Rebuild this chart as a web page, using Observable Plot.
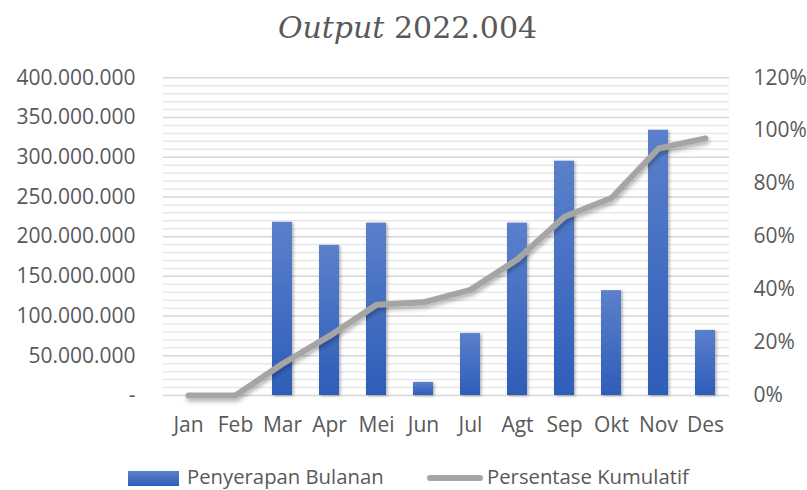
<!DOCTYPE html>
<html>
<head>
<meta charset="utf-8">
<script src="https://cdn.jsdelivr.net/npm/d3@7"></script>
<script src="https://cdn.jsdelivr.net/npm/@observablehq/plot@0.6"></script>
<style>
  body { margin: 0; background: #fff; }
  #wrap { position: relative; width: 807px; height: 490px; overflow: hidden; font-family: "Open Sans", sans-serif; color: #595959; background: #fff; }
  #title { position: absolute; left: 0; top: 10px; width: 807px; padding-left: 8px; box-sizing: border-box; text-align: center; font-family: "DejaVu Serif", serif; font-size: 30px; line-height: 36px; color: #595959; white-space: nowrap; }
  #chart { position: absolute; left: 0; top: 50px; width: 807px; height: 400px; }
  #legend { position: absolute; left: 0; top: 450px; width: 807px; height: 40px; }
  .sw-bar { position: absolute; left: 128px; top: 21px; width: 51px; height: 15px; background: linear-gradient(#5b80cb, #2e5db9); }
  .sw-line { position: absolute; left: 427px; top: 25px; width: 56px; height: 6px; border-radius: 3px; background: #a5a5a5; }
  .lg-text { position: absolute; top: 15px; font-size: 20.3px; line-height: 22px; white-space: nowrap; color: #595959; }
</style>
</head>
<body>
<div id="wrap">
  <div id="title"><i>Output</i> 2022.004</div>
  <div id="chart"></div>
  <div id="legend">
    <div class="sw-bar"></div>
    <div class="lg-text" style="left:187px">Penyerapan Bulanan</div>
    <div class="sw-line"></div>
    <div class="lg-text" style="left:487px">Persentase Kumulatif</div>
  </div>
</div>
<script>
// ---- Data ----
const months = ["Jan", "Feb", "Mar", "Apr", "Mei", "Jun", "Jul", "Agt", "Sep", "Okt", "Nov", "Des"];
const monthlyAbsorption = [0, 0, 218000000, 189000000, 217000000, 16500000, 78000000, 217000000, 295000000, 132000000, 334000000, 82000000];
const cumulativePct = [0, 0, 12.0, 22.5, 34.3, 35.2, 39.9, 51.5, 67.5, 74.6, 93.3, 97.1];
const leftMajorTicks = [0, 50000000, 100000000, 150000000, 200000000, 250000000, 300000000, 350000000, 400000000];
const leftMinorTicks = [10000000, 20000000, 30000000, 40000000, 60000000, 70000000, 80000000, 90000000,
  110000000, 120000000, 130000000, 140000000, 160000000, 170000000, 180000000, 190000000,
  210000000, 220000000, 230000000, 240000000, 260000000, 270000000, 280000000, 290000000,
  310000000, 320000000, 330000000, 340000000, 360000000, 370000000, 380000000, 390000000];
const rightTicksPct = [0, 20, 40, 60, 80, 100, 120];
const leftMax = 400000000;
const rightMax = 120;

// map percent axis onto the left-axis domain
const k = leftMax / rightMax;
const rows = months.map((m, i) => ({month: m, value: monthlyAbsorption[i], pct: cumulativePct[i]}));

const fmtLeft = d => d === 0 ? "-" : d3.format(",")(d).replace(/,/g, ".");

const chart = Plot.plot({
  width: 807,
  height: 400,
  marginTop: 27.3,
  marginBottom: 55,
  marginLeft: 163,
  marginRight: 78,
  style: {fontFamily: "Open Sans, sans-serif", fontSize: "21px", color: "#595959", background: "transparent", overflow: "visible"},
  x: {type: "band", domain: months, paddingInner: 0.576, paddingOuter: 0.288, align: 0.5},
  y: {domain: [0, leftMax]},
  marks: [
    Plot.gridY(leftMinorTicks, {stroke: "#e8e8e8", strokeOpacity: 1, strokeWidth: 1.5}),
    Plot.gridY(leftMajorTicks, {stroke: "#d6d6d6", strokeOpacity: 1, strokeWidth: 1.5}),
    Plot.barY(rows, {x: "month", y: "value", fill: "url(#barGrad)"}),
    Plot.lineY(rows, {x: "month", y: d => d.pct * k, stroke: "#a5a5a5", strokeWidth: 6, strokeLinecap: "round", strokeLinejoin: "round"}),
    Plot.axisY(leftMajorTicks, {anchor: "left", tickSize: 0, tickPadding: 28, tickFormat: fmtLeft, label: null}),
    Plot.axisY(rightTicksPct.map(p => p * k), {anchor: "right", tickSize: 0, tickPadding: 24, tickFormat: d => Math.round(d / k) + "%", label: null}),
    Plot.axisX({tickSize: 0, tickPadding: 22, label: null})
  ]
});

const svg = d3.select(chart);
const defs = svg.insert("defs", ":first-child");
const grad = defs.append("linearGradient").attr("id", "barGrad").attr("x1", 0).attr("y1", 0).attr("x2", 0).attr("y2", 1);
grad.append("stop").attr("offset", "0%").attr("stop-color", "#5b80cb");
grad.append("stop").attr("offset", "100%").attr("stop-color", "#2e5db9");
const fb = defs.append("filter").attr("id", "barShadow").attr("x", "-30%").attr("y", "-10%").attr("width", "160%").attr("height", "130%");
fb.append("feDropShadow").attr("dx", 1.5).attr("dy", 1).attr("stdDeviation", 1.5).attr("flood-color", "#000").attr("flood-opacity", 0.3);
const fl = defs.append("filter").attr("id", "lineShadow").attr("x", "-10%").attr("y", "-20%").attr("width", "120%").attr("height", "150%").attr("filterUnits", "objectBoundingBox");
fl.append("feDropShadow").attr("dx", 1).attr("dy", 3).attr("stdDeviation", 2).attr("flood-color", "#000").attr("flood-opacity", 0.3);
svg.selectAll('g[aria-label="bar"]').attr("filter", "url(#barShadow)");
svg.selectAll('g[aria-label="line"]').attr("filter", "url(#lineShadow)");

document.getElementById("chart").appendChild(chart);
</script>
</body>
</html>
